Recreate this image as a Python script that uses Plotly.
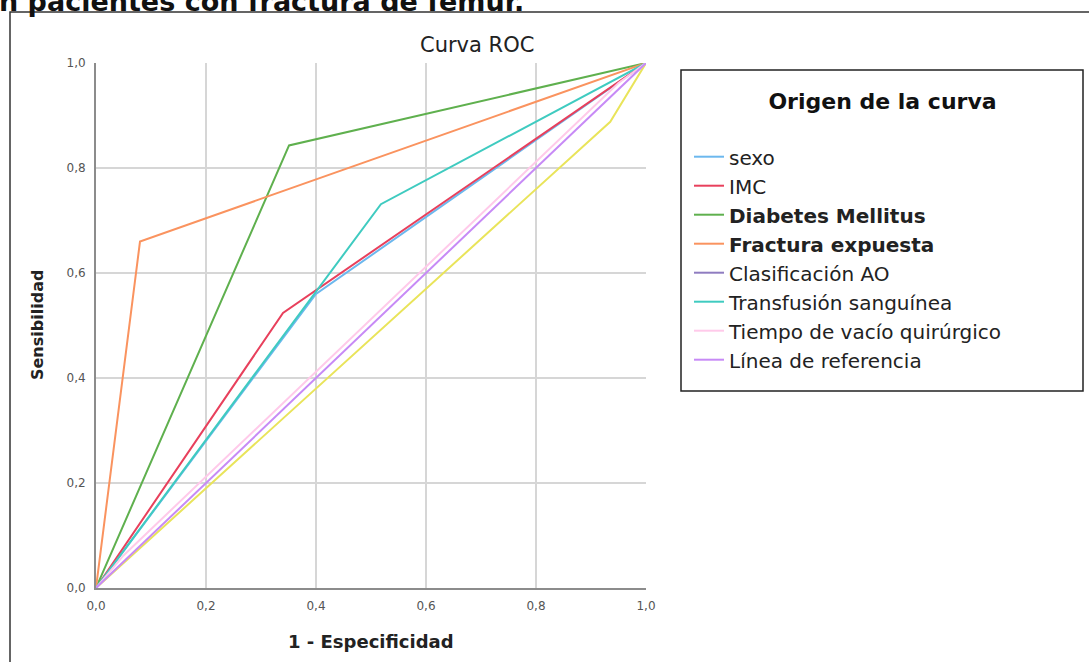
import plotly.graph_objects as go

W, H = 1089, 662

# ROC curve data (1 - especificidad, sensibilidad)
sexo_x = [0.0, 0.40, 1.0]
sexo_y = [0.0, 0.56, 1.0]
imc_x = [0.0, 0.34, 1.0]
imc_y = [0.0, 0.524, 1.0]
dm_x = [0.0, 0.351, 1.0]
dm_y = [0.0, 0.843, 1.0]
fract_x = [0.0, 0.08, 1.0]
fract_y = [0.0, 0.66, 1.0]
ao_x = [0.0, 0.935, 1.0]
ao_y = [0.0, 0.888, 1.0]
transf_x = [0.0, 0.518, 1.0]
transf_y = [0.0, 0.731, 1.0]
tiempo_x = [0.0, 0.05, 0.95, 1.0]
tiempo_y = [0.0, 0.062, 0.962, 1.0]
ref_x = [0.0, 1.0]
ref_y = [0.0, 1.0]

tick_vals = [0.0, 0.2, 0.4, 0.6, 0.8, 1.0]

series = [
    ("sexo", sexo_x, sexo_y, "#6cb8ee", True),
    ("IMC", imc_x, imc_y, "#e8405c", True),
    ("<b>Diabetes Mellitus</b>", dm_x, dm_y, "#5fb04e", True),
    ("<b>Fractura expuesta</b>", fract_x, fract_y, "#fa935f", True),
    ("Clasificación AO", ao_x, ao_y, "#e9e45a", False),
    ("Transfusión sanguínea", transf_x, transf_y, "#3fcbc0", True),
    ("Tiempo de vacío quirúrgico", tiempo_x, tiempo_y, "#ffcaea", True),
    ("Línea de referencia", ref_x, ref_y, "#c78af6", True),
]

FONT = "DejaVu Sans, Verdana, sans-serif"

fig = go.Figure()
for name, xs, ys, col, show in series:
    fig.add_trace(go.Scatter(x=xs, y=ys, mode="lines", name=name,
                             line=dict(color=col, width=2), showlegend=show))
    if not show:
        # legend entry for this curve uses the SPSS legend colour
        fig.add_trace(go.Scatter(x=[None], y=[None], mode="lines", name=name,
                                 line=dict(color="#8f7cc0", width=2)))


def px(x):
    return x / W


def py(y):
    return 1 - y / H


pad = "&nbsp;" * 11
axis_common = dict(range=[0, 1], tickvals=tick_vals, tickformat=".1f",
                   showgrid=True, gridcolor="#d6d6d6", gridwidth=1.5,
                   showline=True, linecolor="#8c8c8c", linewidth=2, zeroline=False,
                   tickfont=dict(size=12, color="#555"), ticks="",
                   ticklabelstandoff=6, automargin=False)
fig.update_layout(
    width=W, height=H,
    margin=dict(l=0, r=0, t=0, b=0, autoexpand=False),
    paper_bgcolor="white", plot_bgcolor="white",
    separators=",.",
    font=dict(family=FONT, color="#222"),
    xaxis=dict(domain=[px(96), px(646)], **axis_common),
    yaxis=dict(domain=[1 - 588 / H, 1 - 63 / H], **axis_common),
    legend=dict(x=px(689), y=py(80), xanchor="left", yanchor="top",
                borderwidth=0, bgcolor="rgba(0,0,0,0)",
                font=dict(size=20, color="#222", family=FONT),
                title=dict(text=pad + "<b>Origen de la curva</b>" + pad + "<br> ",
                           side="top center",
                           font=dict(size=22, color="#111", family=FONT)),
                itemwidth=30, tracegroupgap=0),
    showlegend=True,
)

# legend frame
fig.add_shape(type="rect", xref="paper", yref="paper", x0=px(681), x1=px(1083),
              y0=py(391), y1=py(70), line=dict(color="#222", width=1.5), layer="below")

fig.add_annotation(text="Curva ROC", x=px(477), y=py(45), xref="paper", yref="paper",
                   showarrow=False, font=dict(size=21, color="#222"),
                   xanchor="center", yanchor="middle")
fig.add_annotation(text="<b>Sensibilidad</b>", x=px(37), y=py(325), xref="paper", yref="paper",
                   showarrow=False, textangle=-90, font=dict(size=16, color="#222"),
                   xanchor="center", yanchor="middle")
fig.add_annotation(text="<b>1 - Especificidad</b>", x=px(371), y=py(641), xref="paper", yref="paper",
                   showarrow=False, font=dict(size=18, color="#222"),
                   xanchor="center", yanchor="middle")
fig.add_annotation(text="<b>n pacientes con fractura de fémur.</b>", x=px(-3), y=py(19),
                   xref="paper", yref="paper", showarrow=False,
                   font=dict(size=27, color="#111"), xanchor="left", yanchor="bottom")

# outer frame of the figure panel
fig.add_shape(type="rect", xref="paper", yref="paper", x0=px(10), x1=px(1100),
              y0=py(700), y1=py(12), line=dict(color="#333", width=1.5))

fig.write_html("out.html", config={"displayModeBar": False},
               post_script="document.body.style.margin='0px';")
